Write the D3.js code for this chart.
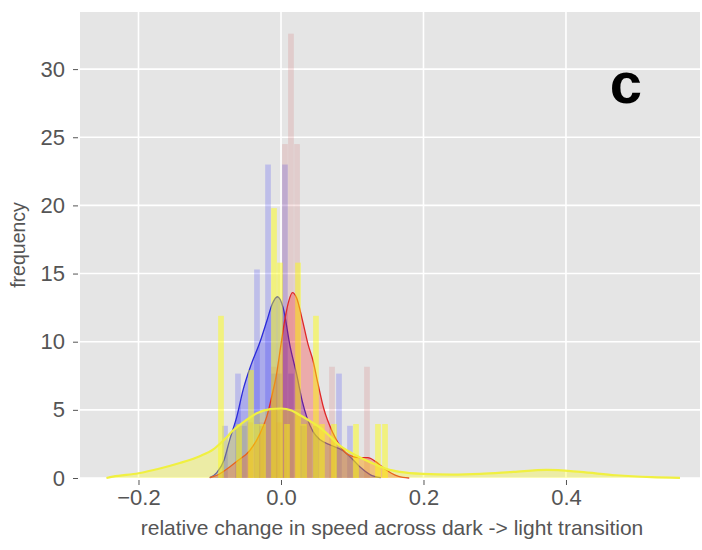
<!DOCTYPE html>
<html>
<head>
<meta charset="utf-8">
<script src="https://cdn.jsdelivr.net/npm/d3@7"></script>
<style>
  body { margin: 0; background: #fff; }
  svg { display: block; }
  .tick text { font-family: "Liberation Sans", Arial, sans-serif; fill: #555; }
</style>
</head>
<body>
<svg width="702" height="550"></svg>
<script>
// histogram bars: bin centre and height (density)
var blueBins    = [-0.0786, -0.0604, -0.0519, -0.0337, -0.0267, -0.0182, -0.0098, -0.0028, 0.0056, 0.0140, 0.0309, 0.0491, 0.0814, 0.0968];
var blueHeights = [3.83, 7.66, 3.83, 15.3, 3.83, 23.0, 7.66, 7.66, 23.0, 7.66, 3.83, 3.83, 7.66, 3.83];

var redBins    = [-0.0435, -0.0267, -0.0098, -0.0028, 0.0056, 0.0140, 0.0225, 0.0393, 0.0716, 0.1207];
var redHeights = [4.08, 4.08, 8.16, 4.08, 24.5, 32.6, 24.5, 4.08, 8.16, 8.16];

var yellowBins    = [-0.0842, -0.0589, -0.0421, -0.0337, -0.0253, -0.0098, -0.0014, 0.0084, 0.0239, 0.0323, 0.0491, 0.0575, 0.0744, 0.1053, 0.1361, 0.1460];
var yellowHeights = [11.9, 3.96, 7.92, 3.96, 3.96, 19.8, 15.8, 3.96, 15.8, 3.96, 11.9, 3.96, 3.96, 3.96, 3.96, 3.96];

// kde curves
var blueKdeX = [-0.100, -0.090, -0.080, -0.072, -0.062, -0.053, -0.042, -0.030, -0.020, -0.012, -0.005, 0.003, 0.013, 0.022, 0.030, 0.036, 0.045, 0.055, 0.070, 0.087, 0.100, 0.111, 0.125, 0.140];
var blueKdeY = [0.03, 0.4, 1.3, 2.8, 4.5, 6.5, 8.3, 9.9, 11.5, 12.8, 13.3, 12.5, 9.6, 7.6, 5.6, 4.5, 3.4, 2.8, 2.4, 2.0, 1.4, 0.8, 0.25, 0.02];

var redKdeX = [-0.100, -0.090, -0.075, -0.060, -0.044, -0.030, -0.020, -0.012, -0.006, 0.000, 0.006, 0.011, 0.016, 0.022, 0.030, 0.038, 0.045, 0.052, 0.060, 0.073, 0.085, 0.095, 0.110, 0.122, 0.133, 0.145, 0.155, 0.165, 0.180];
var redKdeY = [0.03, 0.2, 0.7, 1.3, 2.0, 3.2, 4.5, 6.2, 7.7, 9.8, 11.8, 13.0, 13.6, 13.2, 11.6, 9.8, 8.6, 6.9, 5.1, 3.3, 2.2, 1.7, 1.5, 1.5, 1.2, 0.7, 0.35, 0.12, 0.0];

var yellowKdeX = [-0.245, -0.236, -0.200, -0.170, -0.142, -0.114, -0.095, -0.080, -0.067, -0.050, -0.034, -0.015, 0.000, 0.015, 0.027, 0.040, 0.055, 0.070, 0.083, 0.097, 0.111, 0.130, 0.149, 0.167, 0.200, 0.240, 0.280, 0.326, 0.373, 0.420, 0.470, 0.520, 0.560];
var yellowKdeY = [0.0, 0.1, 0.35, 0.7, 1.1, 1.6, 2.1, 2.8, 3.5, 4.2, 4.75, 5.05, 5.1, 4.95, 4.6, 4.2, 3.7, 3.0, 2.35, 1.9, 1.5, 1.05, 0.65, 0.45, 0.3, 0.25, 0.3, 0.45, 0.6, 0.45, 0.2, 0.06, 0.01];

var xTicks = [-0.2, 0.0, 0.2, 0.4];
var yTicks = [0, 5, 10, 15, 20, 25, 30];

var svg = d3.select("svg"),
    margin = {top: 12, right: 2, bottom: 72, left: 80},
    width = svg.attr("width") - margin.left - margin.right,
    height = svg.attr("height") - margin.top - margin.bottom,
    g = svg.append("g").attr("transform", "translate(" + margin.left + "," + margin.top + ")");

var x = d3.scaleLinear().domain([-0.2821, 0.5881]).range([0, width]),
    y = d3.scaleLinear().domain([0, 34.19]).range([height, 0]);

var barW = 0.008;

// panel background
g.append("rect")
    .attr("width", width)
    .attr("height", height)
    .attr("fill", "#e5e5e5");

// gridlines
g.append("g")
    .selectAll("line.gx")
    .data(xTicks)
    .enter().append("line")
    .attr("x1", function(d) { return x(d); })
    .attr("x2", function(d) { return x(d); })
    .attr("y1", 0).attr("y2", height)
    .attr("stroke", "#fff").attr("stroke-width", 1.6);

g.append("g")
    .selectAll("line.gy")
    .data(yTicks)
    .enter().append("line")
    .attr("y1", function(d) { return y(d); })
    .attr("y2", function(d) { return y(d); })
    .attr("x1", 0).attr("x2", width)
    .attr("stroke", "#fff").attr("stroke-width", 1.6);

var series = [
    {bins: blueBins, heights: blueHeights, kx: blueKdeX, ky: blueKdeY,
     bar: "rgba(0,0,255,0.17)", fill: "rgba(0,0,255,0.25)", line: "#2b2bd8", lw: 1.3},
    {bins: redBins, heights: redHeights, kx: redKdeX, ky: redKdeY,
     bar: "rgba(200,60,60,0.15)", fill: "rgba(255,0,0,0.25)", line: "#e02828", lw: 1.3},
    {bins: yellowBins, heights: yellowHeights, kx: yellowKdeX, ky: yellowKdeY,
     bar: "rgba(255,255,0,0.45)", fill: "rgba(255,255,0,0.28)", line: "#f0f040", lw: 2.2}
];

var area = d3.area()
    .curve(d3.curveMonotoneX)
    .x(function(d) { return x(d[0]); })
    .y0(y(0))
    .y1(function(d) { return y(d[1]); });

var line = d3.line()
    .curve(d3.curveMonotoneX)
    .x(function(d) { return x(d[0]); })
    .y(function(d) { return y(d[1]); });

series.forEach(function(s) {
    var bars = s.bins.map(function(b, i) { return {x: b, h: s.heights[i]}; });
    g.append("g").selectAll("rect")
        .data(bars)
        .enter().append("rect")
        .attr("x", function(d) { return x(d.x - barW / 2); })
        .attr("width", x(barW) - x(0))
        .attr("y", function(d) { return y(d.h); })
        .attr("height", function(d) { return y(0) - y(d.h); })
        .attr("fill", s.bar);

    var pts = s.kx.map(function(v, i) { return [v, s.ky[i]]; });
    g.append("path")
        .datum(pts)
        .attr("d", area)
        .attr("fill", s.fill);
    g.append("path")
        .datum(pts)
        .attr("d", line)
        .attr("fill", "none")
        .attr("stroke", s.line)
        .attr("stroke-width", s.lw);
});

// axes
var xAxis = g.append("g")
    .attr("transform", "translate(0," + height + ")")
    .call(d3.axisBottom(x).tickValues(xTicks).tickFormat(d3.format(".1f")).tickSize(5).tickPadding(6));
var yAxis = g.append("g")
    .call(d3.axisLeft(y).tickValues(yTicks).tickSize(5).tickPadding(10));

[xAxis, yAxis].forEach(function(a) {
    a.select(".domain").remove();
    a.selectAll(".tick line").attr("stroke", "#555").attr("transform", a === xAxis ? "translate(0,2)" : "translate(-2,0)");
    a.selectAll(".tick text").style("font-size", "22px");
});

// axis labels
svg.append("text")
    .attr("x", 392)
    .attr("y", 535)
    .attr("text-anchor", "middle")
    .style("font", "21px 'Liberation Sans', Arial, sans-serif")
    .attr("fill", "#555")
    .text("relative change in speed across dark -> light transition");

svg.append("text")
    .attr("transform", "translate(25,245) rotate(-90)")
    .attr("text-anchor", "middle")
    .style("font", "19.5px 'Liberation Sans', Arial, sans-serif")
    .attr("fill", "#555")
    .text("frequency");

// panel letter
svg.append("text")
    .attr("x", 626)
    .attr("y", 103)
    .attr("text-anchor", "middle")
    .style("font", "bold 58px 'Liberation Sans', Arial, sans-serif")
    .attr("fill", "#000")
    .text("c");
</script>
</body>
</html>
